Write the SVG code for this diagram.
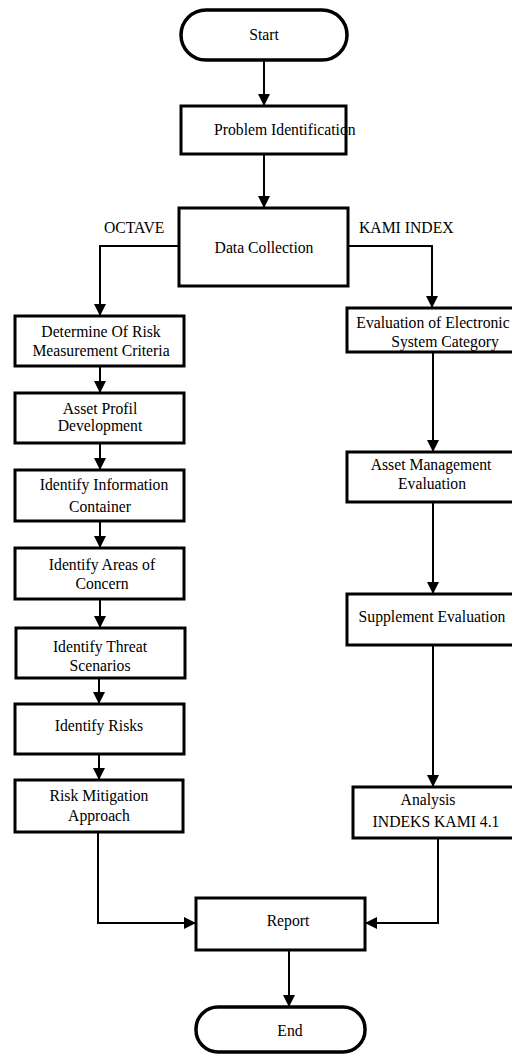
<svg xmlns="http://www.w3.org/2000/svg" width="512" height="1054" viewBox="0 0 512 1054">
<style>
.box{fill:#fff;stroke:#000;stroke-width:3}
.term{fill:#fff;stroke:#000;stroke-width:3.5}
.t{font-family:"Liberation Serif","Times New Roman",serif;font-size:15.7px;fill:#000}
.m{text-anchor:middle}
.c{fill:none;stroke:#000;stroke-width:2}
</style>
<defs>
<marker id="ah" markerUnits="userSpaceOnUse" markerWidth="12" markerHeight="12" viewBox="0 0 12 12" refX="12" refY="6" orient="auto">
<path d="M0,0 L12,6 L0,12 z" fill="#000"/>
</marker>
</defs>
<rect width="512" height="1054" fill="#fff"/>
<g id="connectors">
<path class="c" d="M264,60 V106" marker-end="url(#ah)"/>
<path class="c" d="M264,154 V208" marker-end="url(#ah)"/>
<path class="c" d="M179,246 H100 V316" marker-end="url(#ah)"/>
<path class="c" d="M348,246 H432 V308" marker-end="url(#ah)"/>
<path class="c" d="M100,366 V393" marker-end="url(#ah)"/>
<path class="c" d="M100,443 V470" marker-end="url(#ah)"/>
<path class="c" d="M100,521 V548" marker-end="url(#ah)"/>
<path class="c" d="M100,599 V628" marker-end="url(#ah)"/>
<path class="c" d="M99,678 V704" marker-end="url(#ah)"/>
<path class="c" d="M99,754 V780" marker-end="url(#ah)"/>
<path class="c" d="M433,352 V452" marker-end="url(#ah)"/>
<path class="c" d="M433,502 V594" marker-end="url(#ah)"/>
<path class="c" d="M433,645 V787" marker-end="url(#ah)"/>
<path class="c" d="M98,832 V923 H196" marker-end="url(#ah)"/>
<path class="c" d="M438,838 V923 H365" marker-end="url(#ah)"/>
<path class="c" d="M289,950 V1007" marker-end="url(#ah)"/>
</g>
<g id="labels">
<text class="t" x="104" y="233">OCTAVE</text>
<text class="t" x="359" y="233">KAMI INDEX</text>
</g>
<g id="start"><rect class="term" x="181" y="10" width="166" height="50" rx="25"/><text class="t m" x="264" y="40">Start</text></g>
<g id="problem"><rect x="181" y="106" width="165" height="48" fill="#fff"/><text class="t" x="214" y="135">Problem Identification</text><rect x="181" y="106" width="165" height="48" fill="none" stroke="#000" stroke-width="3"/></g>
<g id="data"><rect class="box" x="179" y="208" width="169" height="78"/><text class="t m" x="264" y="253">Data Collection</text></g>
<g id="o1"><rect class="box" x="15" y="316" width="169" height="50"/><text class="t m" x="101" y="337">Determine Of Risk</text><text class="t m" x="101" y="356">Measurement Criteria</text></g>
<g id="o2"><rect class="box" x="15" y="393" width="169" height="50"/><text class="t m" x="100" y="414">Asset Profil</text><text class="t m" x="100" y="431">Development</text></g>
<g id="o3"><rect class="box" x="15" y="470" width="169" height="51"/><text class="t m" x="104" y="490">Identify Information</text><text class="t m" x="100" y="512">Container</text></g>
<g id="o4"><rect class="box" x="15" y="548" width="169" height="51"/><text class="t m" x="102" y="570">Identify Areas of</text><text class="t m" x="102" y="589">Concern</text></g>
<g id="o5"><rect class="box" x="16" y="628" width="169" height="50"/><text class="t m" x="100" y="652">Identify Threat</text><text class="t m" x="100" y="671">Scenarios</text></g>
<g id="o6"><rect class="box" x="15" y="704" width="169" height="50"/><text class="t m" x="99" y="731">Identify Risks</text></g>
<g id="o7"><rect class="box" x="15" y="780" width="168" height="52"/><text class="t m" x="99" y="801">Risk Mitigation</text><text class="t m" x="99" y="821">Approach</text></g>
<g id="k1"><rect class="box" x="347" y="308" width="170" height="44"/><text class="t m" x="433" y="328">Evaluation of Electronic</text><text class="t m" x="445" y="347">System Category</text></g>
<g id="k2"><rect class="box" x="347" y="452" width="170" height="50"/><text class="t m" x="431" y="470">Asset Management</text><text class="t m" x="432" y="489">Evaluation</text></g>
<g id="k3"><rect class="box" x="347" y="594" width="170" height="51"/><text class="t m" x="432" y="622">Supplement Evaluation</text></g>
<g id="k4"><rect class="box" x="353" y="787" width="164" height="51"/><text class="t m" x="428" y="805">Analysis</text><text class="t m" x="436" y="827">INDEKS KAMI 4.1</text></g>
<g id="report"><rect class="box" x="196" y="898" width="169" height="52"/><text class="t m" x="288" y="926">Report</text></g>
<g id="end"><rect class="term" x="196" y="1007" width="169" height="45" rx="22"/><text class="t m" x="290" y="1036">End</text></g>
</svg>
